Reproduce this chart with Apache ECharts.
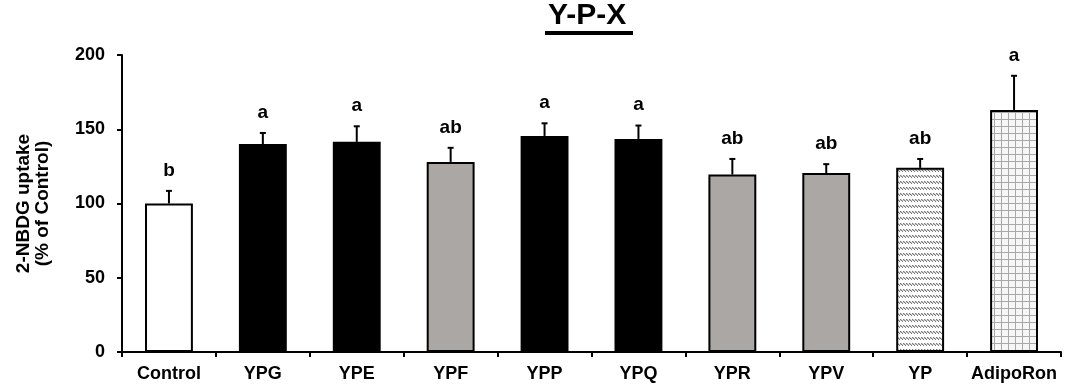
<!DOCTYPE html>
<html>
<head>
<meta charset="utf-8">
<script src="https://cdn.jsdelivr.net/npm/echarts@6/dist/echarts.min.js"></script>
<style>
html,body{margin:0;padding:0;background:#fff;}
#chart{width:1067px;height:389px;}
</style>
</head>
<body>
<div id="chart"></div>
<script>
// ---- data ----
var categories = ['Control','YPG','YPE','YPF','YPP','YPQ','YPR','YPV','YP','AdipoRon'];
var means      = [100, 140, 141.5, 128, 145.5, 143.5, 119.5, 120.5, 124, 163];
var errors     = [8.5, 7.5, 10.5, 9.5, 8.5, 9, 10.5, 6, 6, 23];
var letters    = ['b','a','a','ab','a','a','ab','ab','ab','a'];
var fillKinds  = ['white','black','black','gray','black','black','gray','gray','hatch','grid'];
var yTicks     = [0, 50, 100, 150, 200];

// ---- patterns ----
function hatchPattern(){
  var c = document.createElement('canvas'); c.width = 3; c.height = 6;
  var g = c.getContext('2d');
  g.fillStyle = '#fff'; g.fillRect(0,0,3,6);
  g.fillStyle = '#7a7a7a';
  g.fillRect(0,1,1,1); g.fillRect(1,2,1,1); g.fillRect(2,3,1,1);
  g.fillStyle = '#c8c8c8';
  g.fillRect(1,1,1,1); g.fillRect(2,2,1,1); g.fillRect(0,2,1,1);
  return c;
}
function gridPattern(){
  var c = document.createElement('canvas'); c.width = 7; c.height = 7;
  var g = c.getContext('2d');
  g.fillStyle = '#f6f6f6'; g.fillRect(0,0,7,7);
  g.fillStyle = '#a8a8a8';
  g.fillRect(0,0,7,1); g.fillRect(0,0,1,7);
  return c;
}
var fills = {
  white: '#ffffff',
  black: '#000000',
  gray: '#aaa7a5',
  hatch: {image: hatchPattern(), repeat: 'repeat'},
  grid: {image: gridPattern(), repeat: 'repeat'}
};

var barData = means.map(function(v,i){
  return {value: v, itemStyle: {color: fills[fillKinds[i]], borderColor: '#000', borderWidth: 2}};
});
var errData = means.map(function(v,i){ return [i, v, v + errors[i], letters[i]]; });

var FONT = 'Liberation Sans, Arial, sans-serif';
var chart = echarts.init(document.getElementById('chart'), null, {renderer: 'canvas'});
chart.setOption({
  animation: false,
  backgroundColor: '#fff',
  title: {
    text: 'Y-P-X',
    left: 548, top: 1,
    padding: 0,
    textStyle: {fontFamily: FONT, fontWeight: 'bold', fontSize: 30, color: '#000'}
  },
  graphic: [{
    type: 'rect', left: 545, top: 31,
    shape: {width: 88, height: 4},
    style: {fill: '#000'}
  }],
  grid: {left: 122, right: 6, top: 55, bottom: 37, containLabel: false},
  xAxis: {
    type: 'category',
    data: categories,
    axisLine: {lineStyle: {color: '#000', width: 2}},
    axisTick: {show: true, inside: false, length: 5, lineStyle: {color: '#000', width: 2}},
    axisLabel: {fontFamily: FONT, fontWeight: 'bold', fontSize: 18, color: '#000', margin: 13, interval: 0}
  },
  yAxis: {
    type: 'value',
    min: 0, max: 200, interval: 50,
    name: '2-NBDG uptake\n(% of Control)',
    nameLocation: 'middle',
    nameGap: 70,
    nameRotate: 90,
    nameTextStyle: {fontFamily: FONT, fontWeight: 'bold', fontSize: 19, color: '#000', lineHeight: 19},
    axisLine: {show: true, lineStyle: {color: '#000', width: 2}},
    axisTick: {show: true, length: 5, lineStyle: {color: '#000', width: 2}},
    splitLine: {show: false},
    axisLabel: {fontFamily: FONT, fontWeight: 'bold', fontSize: 18, color: '#000', margin: 17,
      formatter: function(v){ return yTicks.indexOf(v) >= 0 ? String(v) : ''; }}
  },
  series: [{
    type: 'bar',
    data: barData,
    barWidth: '51%',
    z: 2
  },{
    type: 'custom',
    data: errData,
    z: 3,
    renderItem: function(params, api){
      var i = api.value(0);
      var p0 = api.coord([i, api.value(1)]);
      var p1 = api.coord([i, api.value(2)]);
      var cap = 3;
      return {
        type: 'group',
        children: [
          {type: 'line', shape: {x1: p0[0], y1: p0[1], x2: p1[0], y2: p1[1]}, style: {stroke: '#000', lineWidth: 2}},
          {type: 'line', shape: {x1: p1[0]-cap, y1: p1[1], x2: p1[0]+cap, y2: p1[1]}, style: {stroke: '#000', lineWidth: 2}},
          {type: 'text', style: {text: letters[params.dataIndex], x: p1[0], y: p1[1] - 11,
            textAlign: 'center', textVerticalAlign: 'bottom',
            font: 'bold 19px ' + FONT, fill: '#000'}}
        ]
      };
    }
  }]
});
</script>
</body>
</html>
